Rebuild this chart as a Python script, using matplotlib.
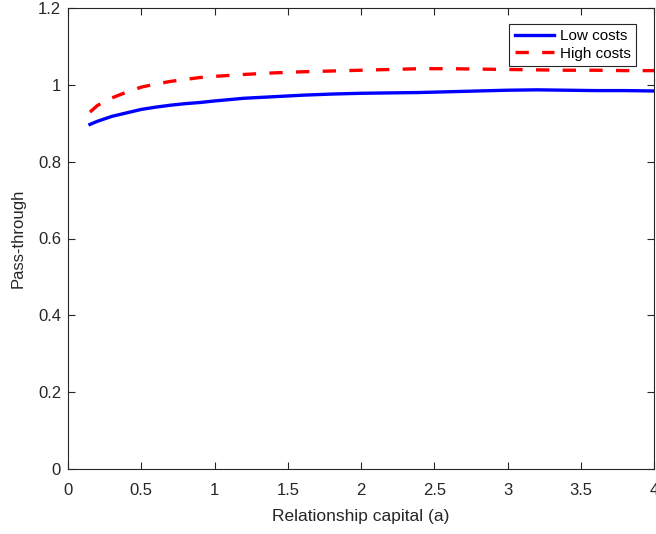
import matplotlib
matplotlib.use('Agg')
import matplotlib.pyplot as plt

plt.rcParams['font.family'] = ['Liberation Sans', 'DejaVu Sans']

# relationship capital grid and pass-through for the two cost regimes
a_vals = [0.15, 0.2, 0.3, 0.4, 0.5, 0.6, 0.7, 0.8, 0.9, 1.0, 1.2, 1.4, 1.6,
          1.8, 2.0, 2.2, 2.4, 2.6, 2.8, 3.0, 3.2, 3.4, 3.6, 3.8, 4.0]
low_costs = [0.897, 0.905, 0.918, 0.927, 0.936, 0.942, 0.947, 0.951, 0.954,
             0.958, 0.965, 0.969, 0.973, 0.976, 0.978, 0.979, 0.980, 0.982,
             0.984, 0.986, 0.987, 0.986, 0.985, 0.985, 0.984]
high_costs = [0.929, 0.946, 0.966, 0.981, 0.994, 1.002, 1.009, 1.014, 1.019,
              1.022, 1.027, 1.031, 1.034, 1.036, 1.038, 1.040, 1.042, 1.042,
              1.041, 1.040, 1.039, 1.038, 1.038, 1.037, 1.037]

xticks = [0, 0.5, 1, 1.5, 2, 2.5, 3, 3.5, 4]
xtick_labels = ['0', '0.5', '1', '1.5', '2', '2.5', '3', '3.5', '4']
yticks = [0, 0.2, 0.4, 0.6, 0.8, 1, 1.2]
ytick_labels = ['0', '0.2', '0.4', '0.6', '0.8', '1', '1.2']

fig = plt.figure(figsize=(6.56, 5.34), dpi=100)
ax = fig.add_axes([68/656, 65/534, 586/656, 461/534])

ax.plot(a_vals, low_costs, color='#0000ff', lw=2.4, label='Low costs')
ax.plot(a_vals, high_costs, color='#ff0000', lw=2.4, dashes=(4.0, 4.0),
        label='High costs')

ax.set_xlim(0, 4)
ax.set_ylim(0, 1.2)
ax.set_xticks(xticks)
ax.set_xticklabels(xtick_labels)
ax.set_yticks(yticks)
ax.set_yticklabels(ytick_labels)

grey = '#262626'
for s in ax.spines.values():
    s.set_color(grey)
    s.set_linewidth(0.8)
ax.tick_params(direction='in', length=5, width=0.8, colors=grey,
               labelsize=12, top=True, right=True)
ax.tick_params(axis='x', pad=10)
ax.tick_params(axis='y', pad=5)

ax.set_xlabel('Relationship capital (a)', fontsize=12.5, color=grey)
ax.set_ylabel('Pass-through', fontsize=12, color=grey)
ax.xaxis.set_label_coords(0.5, -0.086)
ax.yaxis.set_label_coords(-0.072, 0.5)

leg = ax.legend(loc='upper right', bbox_to_anchor=(0.969, 0.966),
                fontsize=11, handlelength=2.6, fancybox=False,
                framealpha=1, borderpad=0.35, labelspacing=0.25,
                handletextpad=0.35, borderaxespad=0.0)
leg.get_frame().set_edgecolor(grey)
leg.get_frame().set_linewidth(0.8)

fig.savefig('out.png', dpi=100)
